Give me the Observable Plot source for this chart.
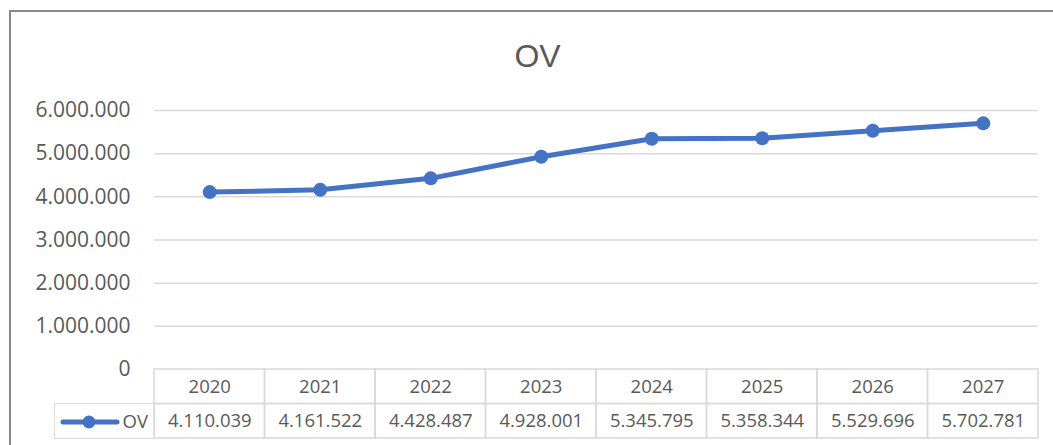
<!DOCTYPE html>
<html><head><meta charset="utf-8">
<script src="https://cdn.jsdelivr.net/npm/d3@7"></script>
<script src="https://cdn.jsdelivr.net/npm/@observablehq/plot@0.6"></script>
<style>
body{margin:0;background:#fff;}
#wrap{position:relative;width:1053px;height:445px;overflow:hidden;background:#fff;font-family:"Open Sans",sans-serif;}
#frame{position:absolute;left:9px;top:10px;width:1100px;height:500px;border:2px solid #888;box-sizing:border-box;}
#title{position:absolute;left:0;width:1075px;top:40px;text-align:center;font:32px/1 "Liberation Sans",sans-serif;color:#595959;}
#wrap svg.plot{position:absolute;left:0;top:0;}
#legend{position:absolute;left:54px;top:403px;width:101px;height:36px;border:1.5px solid #d9d9d9;box-sizing:border-box;}
#legend svg{position:absolute;left:0;top:0;}
#legend span{position:absolute;right:6px;top:5px;font:18.5px/1.3 "Open Sans",sans-serif;color:#595959;}
</style>
</head><body>
<div id="wrap">
  <div id="frame"></div>
  <div id="title">OV</div>
  <div id="legend"><svg width="80" height="34"><line x1="8" x2="62" y1="18" y2="18" stroke="#4472C4" stroke-width="5" stroke-linecap="round"/><circle cx="34" cy="18" r="6.5" fill="#4472C4"/></svg><span>OV</span></div>
</div>
<script>
const seriesName = "OV";
const years = ["2020","2021","2022","2023","2024","2025","2026","2027"];
const values = [4110039, 4161522, 4428487, 4928001, 5345795, 5358344, 5529696, 5702781];
const yTicks = [0, 1000000, 2000000, 3000000, 4000000, 5000000, 6000000];

const loc = d3.formatLocale({decimal: ",", thousands: ".", grouping: [3], currency: ["", ""]});
const fmt = loc.format(",d");

const data = years.map((y, i) => ({i, year: y, v: values[i]}));
const wrap = document.getElementById("wrap");

const main = Plot.plot({
  width: 1053, height: 372,
  marginLeft: 154, marginRight: 15, marginTop: 110, marginBottom: 3,
  style: {fontFamily: "Open Sans", background: "transparent", overflow: "visible"},
  x: {domain: [0, 8], axis: null},
  y: {domain: [0, 6000000], axis: null},
  marks: [
    Plot.gridY(yTicks.filter(d => d > 0), {stroke: "#d9d9d9", strokeOpacity: 1, strokeWidth: 1.5}),
    Plot.axisY(yTicks, {tickSize: 0, tickPadding: 24, tickFormat: fmt, fontSize: 21, fill: "#595959", label: null}),
    Plot.line(data, {x: d => d.i + 0.5, y: "v", stroke: "#4472C4", strokeWidth: 5, strokeLinejoin: "round"}),
    Plot.dot(data, {x: d => d.i + 0.5, y: "v", r: 7, fill: "#4472C4", stroke: "none"})
  ]
});
main.classList.add("plot");
wrap.appendChild(main);

const cells = [];
data.forEach(d => {
  cells.push({i: d.i, row: 0, text: d.year});
  cells.push({i: d.i, row: 1, text: fmt(d.v)});
});

const table = Plot.plot({
  width: 1053, height: 445,
  marginLeft: 0, marginRight: 0, marginTop: 0, marginBottom: 0,
  style: {fontFamily: "Open Sans", background: "transparent", overflow: "visible"},
  x: {domain: [0, 8], range: [154, 1038], axis: null},
  y: {domain: [0, 2], range: [369, 438], axis: null},
  marks: [
    Plot.rect(cells, {x1: "i", x2: d => d.i + 1, y1: "row", y2: d => d.row + 1, fill: "none", stroke: "#d9d9d9", strokeWidth: 1.5}),
    Plot.text(cells, {x: d => d.i + 0.5, y: d => d.row + 0.5, text: "text", fontSize: 18.5, fill: "#595959"})
  ]
});
table.classList.add("plot");
wrap.appendChild(table);
</script>
</body></html>
